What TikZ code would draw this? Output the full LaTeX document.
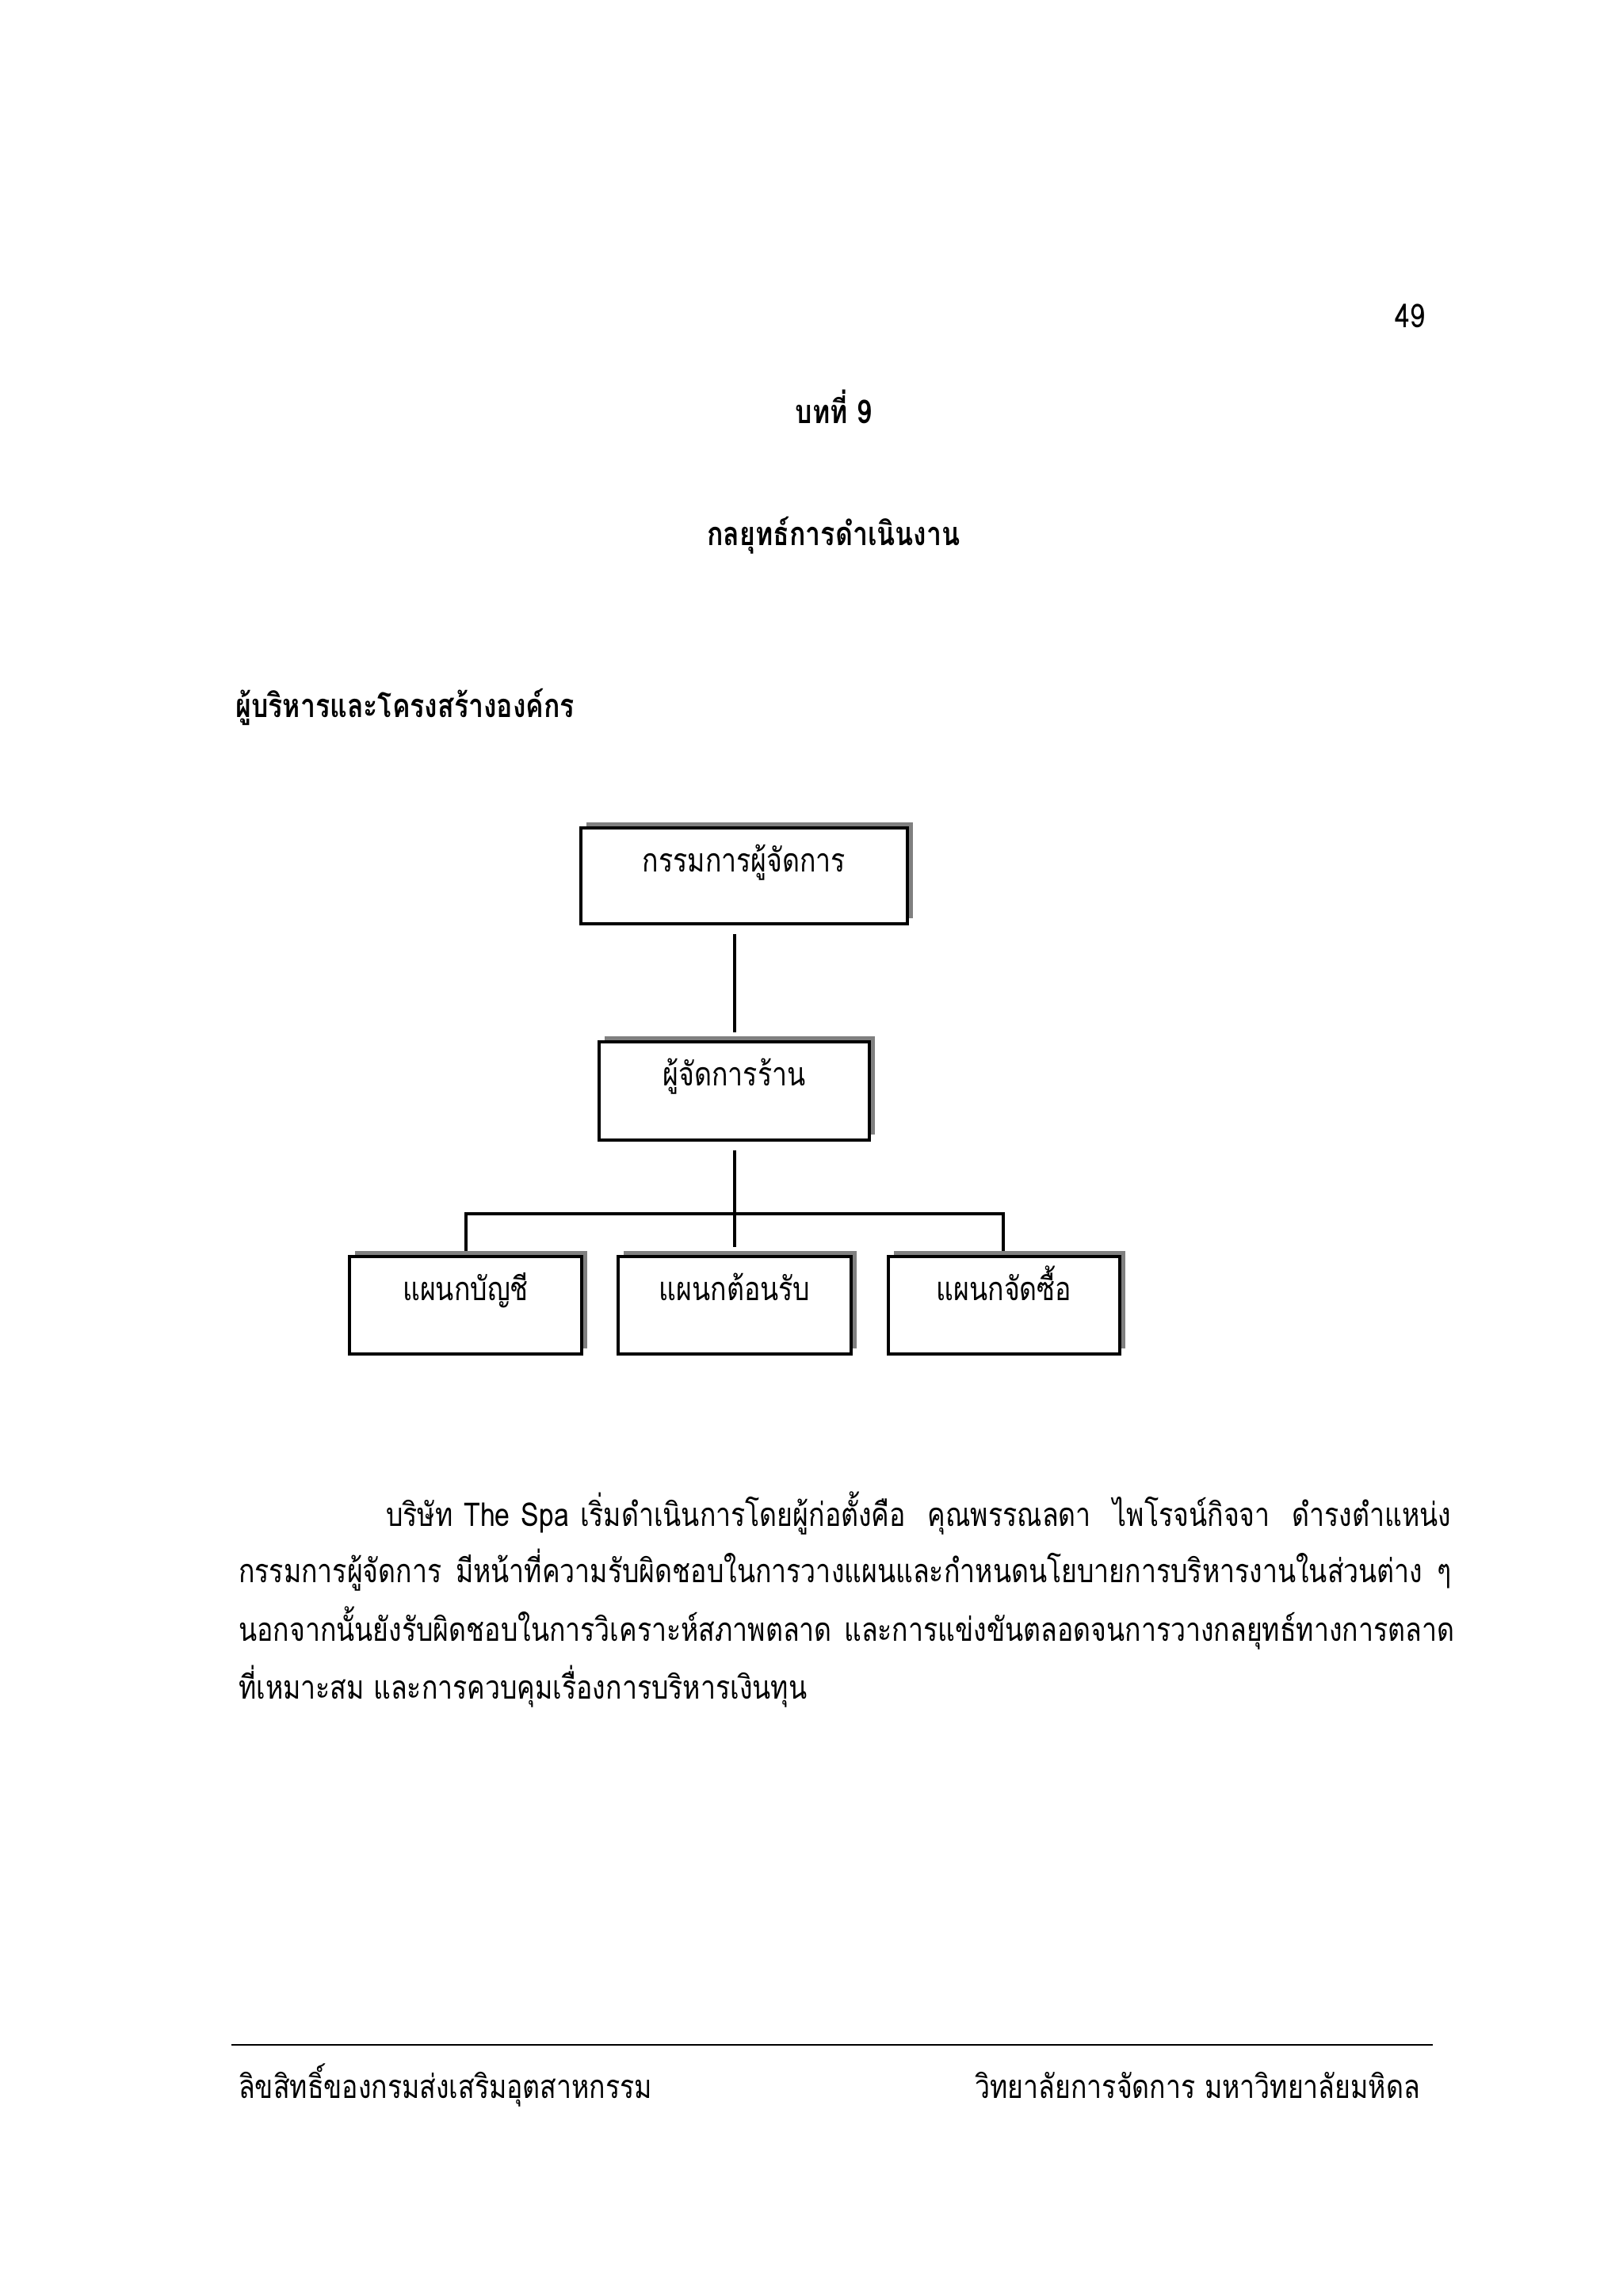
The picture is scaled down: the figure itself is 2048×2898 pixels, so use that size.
\documentclass[tikz,border=0pt]{standalone}
\usepackage{fontspec}
\newfontfamily\thai[Script=Thai,FakeStretch=0.82]{Loma}
\begin{document}
\begin{tikzpicture}[x=0.2906pt,y=-0.2906pt,
  box/.style={draw,line width=1.1pt,fill=white},
  shad/.style={fill=black!50},
  lab/.style={font=\thai\fontsize{12}{14}\selectfont,anchor=base},
  con/.style={line width=1pt}]
\useasboundingbox (0,0) rectangle (2048,2898);
\fill[white] (0,0) rectangle (2048,2898);
\node[lab,anchor=base east] (pn) at (1810,414) {49};
\node[lab,font=\thai\bfseries\fontsize{12}{14}\selectfont] (t1) at (1052,535) {บทที่ 9};
\node[lab,font=\thai\bfseries\fontsize{12}{14}\selectfont] (t2) at (1052,688) {กลยุทธ์การดำเนินงาน};
\node[lab,font=\thai\bfseries\fontsize{12}{14}\selectfont,anchor=base west] (t3) at (285,905) {ผู้บริหารและโครงสร้างองค์กร};
% boxes
\newcommand\orgbox[5]{%
  \fill[shad] (#1+7,#2-7) rectangle (#3+7,#4-7);
  \draw[box] (#1,#2) rectangle (#3,#4);
  \node[lab] at ({(#1+#3)/2},#2+55) {#5};}
\orgbox{733}{1045}{1145}{1166}{กรรมการผู้จัดการ}
\orgbox{756}{1315}{1097}{1439}{ผู้จัดการร้าน}
\orgbox{441}{1586}{734}{1709}{แผนกบัญชี}
\orgbox{780}{1586}{1074}{1709}{แผนกต้อนรับ}
\orgbox{1121}{1586}{1413}{1709}{แผนกจัดซื้อ}
\coordinate (c1) at (927,1179);
\coordinate (c2) at (927,1303);
\coordinate (c3) at (927,1452);
\coordinate (c4) at (927,1574);
\coordinate (l) at (588,1579);
\coordinate (r) at (1266,1579);
\draw[con] (c1)--(c2);
\draw[con] (c3)--(c4);
\draw[con] (l)|-(927,1532)-|(r);
% paragraph
\node[lab,anchor=base west] (p1) at (475,1926) {\makebox[390.6pt][s]{บริษัท The Spa เริ่มดำเนินการโดยผู้ก่อตั้งคือ \ คุณพรรณลดา \ ไพโรจน์กิจจา \ ดำรงตำแหน่ง}};
\node[lab,anchor=base west] (p2) at (289,1997) {\makebox[444.6pt][s]{กรรมการผู้จัดการ มีหน้าที่ความรับผิดชอบในการวางแผนและกำหนดนโยบายการบริหารงานในส่วนต่าง ๆ}};
\node[lab,anchor=base west] (p3) at (289,2071) {\makebox[444.6pt][s]{นอกจากนั้นยังรับผิดชอบในการวิเคราะห์สภาพตลาด \ และการแข่งขันตลอดจนการวางกลยุทธ์ทางการตลาด}};
\node[lab,anchor=base west] (p4) at (289,2144) {ที่เหมาะสม และการควบคุมเรื่องการบริหารเงินทุน};
\draw[line width=0.8pt] (292,2581)--(1808,2581);
\node[lab,anchor=base west] (f1) at (289,2648) {ลิขสิทธิ์ของกรมส่งเสริมอุตสาหกรรม};
\node[lab,anchor=base east] (f2) at (1804,2648) {วิทยาลัยการจัดการ มหาวิทยาลัยมหิดล};
\end{tikzpicture}
\end{document}
